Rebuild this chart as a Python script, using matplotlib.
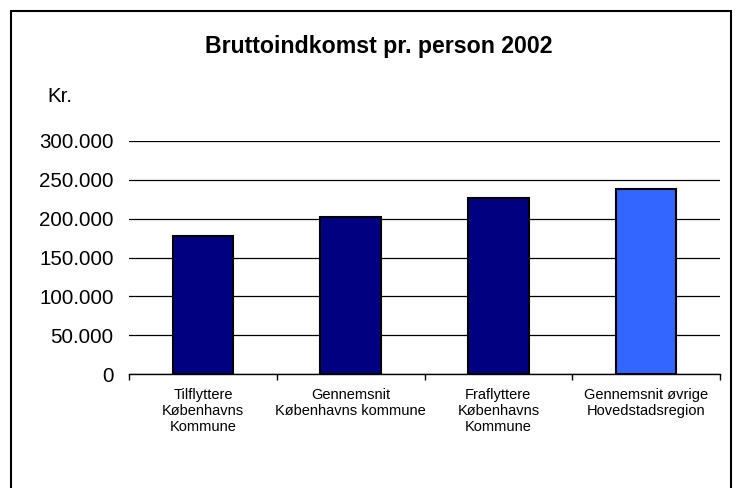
import numpy as np
import matplotlib.pyplot as plt
from matplotlib.patches import Rectangle

plt.rcParams['font.family'] = ['Liberation Sans', 'DejaVu Sans']

categories = ["Tilflyttere\nKøbenhavns\nKommune",
              "Gennemsnit\nKøbenhavns kommune",
              "Fraflyttere\nKøbenhavns\nKommune",
              "Gennemsnit øvrige\nHovedstadsregion"]
values = [178000, 202000, 226000, 238000]
colors = ["#000080", "#000080", "#000080", "#3366FF"]
yticks = [0, 50000, 100000, 150000, 200000, 250000, 300000]
ytick_labels = ["0", "50.000", "100.000", "150.000", "200.000", "250.000", "300.000"]

fig = plt.figure(figsize=(7.36, 4.88), dpi=100)
ax = fig.add_axes([129/736, 1 - 374/488, 591/736, 233/488])

x = np.arange(len(categories))
ax.bar(x, values, width=0.41, color=colors, edgecolor="black", linewidth=1.5, zorder=3)

ax.set_xlim(-0.5, len(categories) - 0.5)
ax.set_ylim(0, 300000)
ax.set_yticks(yticks)
ax.set_yticklabels(ytick_labels, fontsize=14.8)
ax.tick_params(axis="y", length=0, pad=11)
ax.yaxis.grid(True, color="black", linewidth=0.9)
ax.set_axisbelow(True)

ax.set_xticks(x)
ax.set_xticklabels(categories, fontsize=10.5, linespacing=1.2)
ax.tick_params(axis="x", which="major", length=0, pad=10)
ax.set_xticks(np.arange(len(categories) + 1) - 0.5, minor=True)
ax.tick_params(axis="x", which="minor", length=4, width=1, direction="out", color="black")

for s in ["left", "right", "top"]:
    ax.spines[s].set_visible(False)
ax.spines["bottom"].set_linewidth(1)

fig.text(379/736, 1 - 47/488, "Bruttoindkomst pr. person 2002", fontsize=16.7,
         fontweight="bold", ha="center", va="center")
fig.text(47/736, 1 - 97/488, "Kr.", fontsize=14.8, ha="left", va="center")

fig.add_artist(Rectangle((11/736, -0.1), 720/736, 1 - 11/488 + 0.1, fill=False,
                         edgecolor="black", linewidth=1.5, transform=fig.transFigure))

fig.savefig("out.png", dpi=100, facecolor="white")
